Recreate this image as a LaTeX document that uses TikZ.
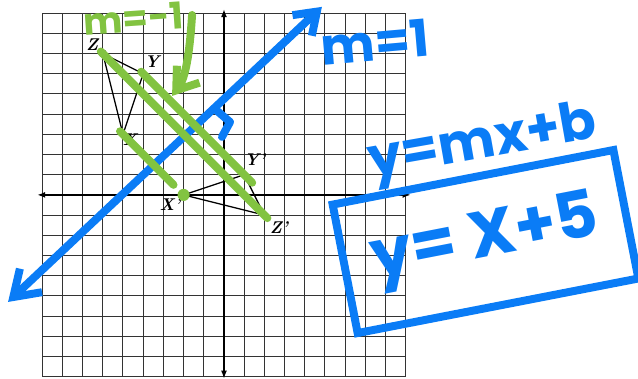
\documentclass[tikz,border=0pt]{standalone}
\usepackage{fontspec}
\newfontfamily\hand{Poppins}
\definecolor{inkblue}{HTML}{0A7CF6}
\definecolor{inkgreen}{HTML}{82C341}
\usetikzlibrary{arrows.meta}

\begin{document}
\begin{tikzpicture}[x=0.5cm,y=0.5cm,
  gridline/.style={black!80,line width=0.7pt},
  axis/.style={black,line width=1.2pt,{Latex[length=2mm]}-{Latex[length=2mm]}},
  tri/.style={black,line width=0.9pt},
  lbl/.style={font=\fontsize{12}{14}\selectfont\bfseries\itshape,inner sep=0pt},
  pen/.style={line width=5.6pt,line cap=round,line join=round},
  blueink/.style={pen,inkblue},
  greenink/.style={pen,inkgreen},
  note/.style={inner sep=0pt,font=\hand\bfseries\fontsize{#1}{#1}\selectfont}]
  \useasboundingbox (-11.09,-9.11) rectangle (20.5,9.65);
  % graph paper
  \draw[gridline,step=0.5cm] (-9,-9) grid (9,9);
  \draw[axis] (-9.25,0) -- (9.25,0);
  \draw[axis] (0,-9.1) -- (0,9.2);
  % triangle and its image
  \coordinate (Z) at (-6,7); \coordinate (Y) at (-4,6); \coordinate (X) at (-5,3);
  \coordinate (Xp) at (-2,0); \coordinate (Yp) at (1,1); \coordinate (Zp) at (2,-1);
  \draw[tri] (Z) -- (Y) -- (X) -- cycle;
  \draw[tri] (Xp) -- (Yp) -- (Zp) -- cycle;
  \fill (Z) circle (0.2);
  \foreach \p in {Y,X,Xp,Yp,Zp} \fill (\p) circle (0.09);
  \node[lbl] (lZ) at (-6.53,7.43) {Z};
  \node[lbl] (lY) at (-3.56,6.58) {Y};
  \node[lbl] (lX) at (-4.65,2.72) {X};
  \node[lbl] (lXp) at (-2.67,-0.5) {X'};
  \node[lbl] (lYp) at (1.53,1.73) {Y'};
  \node[lbl] (lZp) at (2.72,-1.63) {Z'};
  % line of reflection
  \coordinate (lo) at (-10.69,-5.30); \coordinate (hi) at (4.85,9.31);
  \draw[blueink,{Straight Barb[length=6mm,width=8mm]}-{Straight Barb[length=5mm,width=7mm]}] (lo) -- (hi);
  \draw[blueink] (-0.40,4.21) -- (0.30,3.61) -- (-0.10,2.87);
  % perpendicular segments
  \draw[greenink,shorten <=-2pt,shorten >=-3pt] (Z) -- (Zp);
  \draw[greenink,shorten <=-2pt,shorten >=-8pt] (Y) -- (Yp);
  \draw[greenink,shorten <=-3pt,shorten >=10pt] (X) -- (Xp);
  \fill[inkgreen] (Xp) circle (0.3);
  \node[note=26,text=inkgreen,rotate=4] (mg) at (-4.46,8.75) {m=-1};
  \coordinate (cv) at (-1.58,8.91);
  \draw[greenink,-{Straight Barb[length=5mm,width=7mm]}] (cv) .. controls (-1.7,7) and (-1.9,5.8) .. (-2.57,4.9);
  % working
  \node[note=36,text=inkblue,rotate=5] (mb) at (7.48,7.57) {m=1};
  \node[note=38,text=inkblue,rotate=10] (gen) at (12.82,2.48) {y=mx+b};
  \node[note=46,text=inkblue,draw=inkblue,line width=5.6pt,rotate=11,
    minimum width=7.08cm,minimum height=3.24cm] (ans) at (12.95,-2.31) {y= X+5};
\end{tikzpicture}
\end{document}
